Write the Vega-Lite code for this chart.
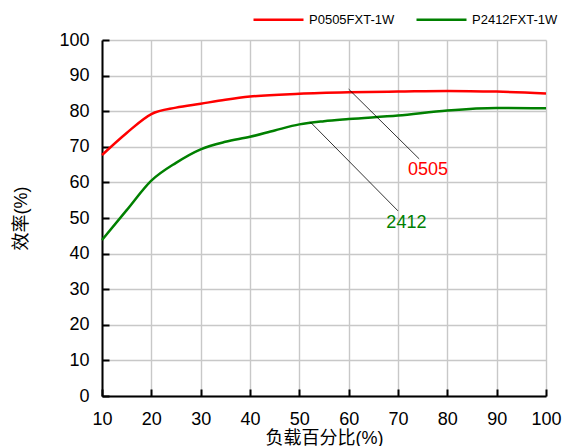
{
  "$schema": "https://vega.github.io/schema/vega-lite/v6.json",
  "autosize": "none",
  "width": 444,
  "height": 356,
  "padding": {"left": 102, "top": 40, "right": 18, "bottom": 50},
  "background": "white",
  "config": {
    "font": "Liberation Sans, Noto Sans CJK SC",
    "view": {"stroke": null},
    "axis": {
      "titleFontSize": 18, "titleFontWeight": "normal", "titleColor": "black",
      "labelFontSize": 18, "labelColor": "black", "labelFlush": false, "labelOverlap": false,
      "domainColor": "black", "domainWidth": 2,
      "tickColor": "black", "tickWidth": 2, "tickSize": -7,
      "gridColor": "#c8c8c8", "gridWidth": 1.4, "grid": true
    },
    "axisX": {"titleX": 222, "titleY": 47, "titleBaseline": "alphabetic", "titleAnchor": "middle", "labelPadding": 21},
    "axisY": {"titleX": -81, "titleY": 178, "titleBaseline": "middle", "titleAngle": -90, "titleAnchor": "middle", "labelPadding": 20}
  },
  "datasets": {
    "curves": [
      {"load": 10, "eff": 67.7, "series": "P0505FXT-1W"},
      {"load": 15, "eff": 73.9, "series": "P0505FXT-1W"},
      {"load": 20, "eff": 79.2, "series": "P0505FXT-1W"},
      {"load": 25, "eff": 81.0, "series": "P0505FXT-1W"},
      {"load": 30, "eff": 82.1, "series": "P0505FXT-1W"},
      {"load": 35, "eff": 83.2, "series": "P0505FXT-1W"},
      {"load": 40, "eff": 84.1, "series": "P0505FXT-1W"},
      {"load": 50, "eff": 84.9, "series": "P0505FXT-1W"},
      {"load": 60, "eff": 85.3, "series": "P0505FXT-1W"},
      {"load": 70, "eff": 85.5, "series": "P0505FXT-1W"},
      {"load": 80, "eff": 85.7, "series": "P0505FXT-1W"},
      {"load": 90, "eff": 85.5, "series": "P0505FXT-1W"},
      {"load": 100, "eff": 85.0, "series": "P0505FXT-1W"},
      {"load": 10, "eff": 43.8, "series": "P2412FXT-1W"},
      {"load": 15, "eff": 52.2, "series": "P2412FXT-1W"},
      {"load": 20, "eff": 60.5, "series": "P2412FXT-1W"},
      {"load": 25, "eff": 65.5, "series": "P2412FXT-1W"},
      {"load": 30, "eff": 69.3, "series": "P2412FXT-1W"},
      {"load": 35, "eff": 71.4, "series": "P2412FXT-1W"},
      {"load": 40, "eff": 72.8, "series": "P2412FXT-1W"},
      {"load": 45, "eff": 74.6, "series": "P2412FXT-1W"},
      {"load": 50, "eff": 76.3, "series": "P2412FXT-1W"},
      {"load": 55, "eff": 77.2, "series": "P2412FXT-1W"},
      {"load": 60, "eff": 77.8, "series": "P2412FXT-1W"},
      {"load": 70, "eff": 78.8, "series": "P2412FXT-1W"},
      {"load": 80, "eff": 80.2, "series": "P2412FXT-1W"},
      {"load": 90, "eff": 80.9, "series": "P2412FXT-1W"},
      {"load": 100, "eff": 80.8, "series": "P2412FXT-1W"}
    ],
    "notes": [
      {"x1": 60, "y1": 86.2, "x2": 74.3, "y2": 66.6, "lx": 76.1, "ly": 63.5, "label": "0505", "series": "P0505FXT-1W"},
      {"x1": 52.2, "y1": 77.0, "x2": 70.0, "y2": 52.0, "lx": 71.7, "ly": 48.6, "label": "2412", "series": "P2412FXT-1W"}
    ]
  },
  "layer": [
    {
      "data": {"name": "curves"},
      "mark": {"type": "line", "interpolate": "monotone", "strokeWidth": 2.5},
      "encoding": {
        "x": {
          "field": "load", "type": "quantitative",
          "scale": {"domain": [10, 100], "nice": false, "zero": false},
          "axis": {"values": [10, 20, 30, 40, 50, 60, 70, 80, 90, 100], "title": "负载百分比(%)"}
        },
        "y": {
          "field": "eff", "type": "quantitative",
          "scale": {"domain": [0, 100], "nice": false},
          "axis": {"values": [0, 10, 20, 30, 40, 50, 60, 70, 80, 90, 100], "title": "效率(%)"}
        },
        "color": {
          "field": "series", "type": "nominal",
          "scale": {"domain": ["P0505FXT-1W", "P2412FXT-1W"], "range": ["#ff0000", "#008000"]},
          "legend": {
            "title": null, "orient": "none", "direction": "horizontal",
            "legendX": 150, "legendY": -47, "padding": 0,
            "symbolType": "stroke", "symbolSize": 2500, "symbolStrokeWidth": 2.5,
            "labelFontSize": 13, "labelColor": "black", "labelOffset": 4, "columnPadding": 16
          }
        }
      }
    },
    {
      "data": {"name": "notes"},
      "mark": {"type": "rule", "color": "black", "strokeWidth": 0.8},
      "encoding": {
        "x": {"field": "x1", "type": "quantitative", "axis": {"values": [10, 20, 30, 40, 50, 60, 70, 80, 90, 100], "title": "负载百分比(%)"}},
        "y": {"field": "y1", "type": "quantitative", "axis": {"values": [0, 10, 20, 30, 40, 50, 60, 70, 80, 90, 100], "title": "效率(%)"}},
        "x2": {"field": "x2"},
        "y2": {"field": "y2"}
      }
    },
    {
      "data": {"name": "notes"},
      "mark": {"type": "text", "fontSize": 18, "align": "center", "baseline": "middle"},
      "encoding": {
        "x": {"field": "lx", "type": "quantitative", "axis": {"values": [10, 20, 30, 40, 50, 60, 70, 80, 90, 100], "title": "负载百分比(%)"}},
        "y": {"field": "ly", "type": "quantitative", "axis": {"values": [0, 10, 20, 30, 40, 50, 60, 70, 80, 90, 100], "title": "效率(%)"}},
        "text": {"field": "label"},
        "color": {"field": "series", "type": "nominal", "legend": null}
      }
    }
  ]
}
